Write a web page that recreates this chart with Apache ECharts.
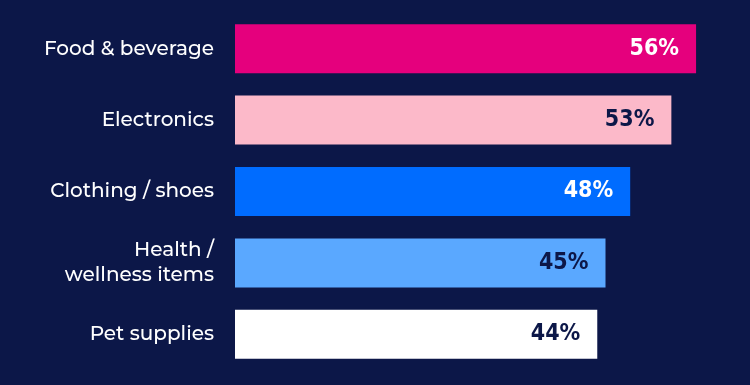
<!DOCTYPE html>
<html><head><meta charset="utf-8">
<script src="https://cdn.jsdelivr.net/npm/echarts@6/dist/echarts.min.js"></script>
<style>html,body{margin:0;padding:0;background:#0c1748;}#c{width:750px;height:385px;}</style>
</head><body><div id="c"></div>
<script>
const categories = ["Food & beverage", "Electronics", "Clothing / shoes", "Health /\nwellness items", "Pet supplies"];
const values = [56, 53, 48, 45, 44];
const barColors = ["#e5007d", "#fcb9c9", "#006cff", "#5aa8ff", "#ffffff"];
const labelColors = ["#ffffff", "#0c1748", "#ffffff", "#0c1748", "#0c1748"];

const chart = echarts.init(document.getElementById('c'));
chart.setOption({
  backgroundColor: '#0c1748',
  animation: false,
  grid: {left: 235, right: 21, top: 13, bottom: 15, containLabel: false},
  xAxis: {type: 'value', min: 0, max: 60, show: false},
  yAxis: {
    type: 'category', inverse: true, data: categories,
    axisLine: {show: false}, axisTick: {show: false},
    axisLabel: {color: '#ffffff', fontFamily: 'Montserrat, "Noto Sans", sans-serif', fontSize: 20, fontWeight: 500, margin: 21, lineHeight: 25, align: 'right'}
  },
  series: [{
    type: 'bar', barWidth: 49,
    data: values.map((v, i) => ({value: v, itemStyle: {color: barColors[i]}, label: {color: labelColors[i]}})),
    label: {
      show: true, position: 'insideRight', distance: 17,
      formatter: '{c}%',
      fontFamily: '"Liberation Sans Narrow", "DejaVu Sans Condensed", sans-serif',
      fontWeight: 'bold', fontSize: 23
    }
  }]
});
</script></body></html>
